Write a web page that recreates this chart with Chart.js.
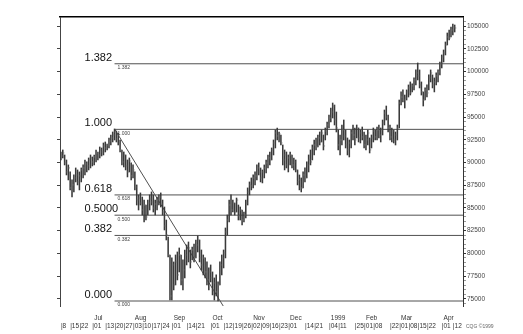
<!DOCTYPE html>
<html><head><meta charset="utf-8">
<script src="https://cdn.jsdelivr.net/npm/chart.js@4/dist/chart.umd.min.js"></script>
<style>html,body{margin:0;padding:0;background:#fff;}canvas{display:block;}</style>
</head><body>
<canvas id="c" width="523" height="334"></canvas>
<script>
// trading days on the axis (last few are empty slots at the right edge)
const dates = [
"1998-06-08","1998-06-09","1998-06-10","1998-06-11","1998-06-12","1998-06-15","1998-06-16","1998-06-17","1998-06-18","1998-06-19",
"1998-06-22","1998-06-23","1998-06-24","1998-06-25","1998-06-26","1998-06-29","1998-06-30","1998-07-01","1998-07-02","1998-07-06",
"1998-07-07","1998-07-08","1998-07-09","1998-07-10","1998-07-13","1998-07-14","1998-07-15","1998-07-16","1998-07-17","1998-07-20",
"1998-07-21","1998-07-22","1998-07-23","1998-07-24","1998-07-27","1998-07-28","1998-07-29","1998-07-30","1998-07-31","1998-08-03",
"1998-08-04","1998-08-05","1998-08-06","1998-08-07","1998-08-10","1998-08-11","1998-08-12","1998-08-13","1998-08-14","1998-08-17",
"1998-08-18","1998-08-19","1998-08-20","1998-08-21","1998-08-24","1998-08-25","1998-08-26","1998-08-27","1998-08-28","1998-08-31",
"1998-09-01","1998-09-02","1998-09-03","1998-09-04","1998-09-08","1998-09-09","1998-09-10","1998-09-11","1998-09-14","1998-09-15",
"1998-09-16","1998-09-17","1998-09-18","1998-09-21","1998-09-22","1998-09-23","1998-09-24","1998-09-25","1998-09-28","1998-09-29",
"1998-09-30","1998-10-01","1998-10-02","1998-10-05","1998-10-06","1998-10-07","1998-10-08","1998-10-09","1998-10-12","1998-10-13",
"1998-10-14","1998-10-15","1998-10-16","1998-10-19","1998-10-20","1998-10-21","1998-10-22","1998-10-23","1998-10-26","1998-10-27",
"1998-10-28","1998-10-29","1998-10-30","1998-11-02","1998-11-03","1998-11-04","1998-11-05","1998-11-06","1998-11-09","1998-11-10",
"1998-11-11","1998-11-12","1998-11-13","1998-11-16","1998-11-17","1998-11-18","1998-11-19","1998-11-20","1998-11-23","1998-11-24",
"1998-11-25","1998-11-27","1998-11-30","1998-12-01","1998-12-02","1998-12-03","1998-12-04","1998-12-07","1998-12-08","1998-12-09",
"1998-12-10","1998-12-11","1998-12-14","1998-12-15","1998-12-16","1998-12-17","1998-12-18","1998-12-21","1998-12-22","1998-12-23",
"1998-12-24","1998-12-28","1998-12-29","1998-12-30","1998-12-31","1999-01-04","1999-01-05","1999-01-06","1999-01-07","1999-01-08",
"1999-01-11","1999-01-12","1999-01-13","1999-01-14","1999-01-15","1999-01-19","1999-01-20","1999-01-21","1999-01-22","1999-01-25",
"1999-01-26","1999-01-27","1999-01-28","1999-01-29","1999-02-01","1999-02-02","1999-02-03","1999-02-04","1999-02-05","1999-02-08",
"1999-02-09","1999-02-10","1999-02-11","1999-02-12","1999-02-16","1999-02-17","1999-02-18","1999-02-19","1999-02-22","1999-02-23",
"1999-02-24","1999-02-25","1999-02-26","1999-03-01","1999-03-02","1999-03-03","1999-03-04","1999-03-05","1999-03-08","1999-03-09",
"1999-03-10","1999-03-11","1999-03-12","1999-03-15","1999-03-16","1999-03-17","1999-03-18","1999-03-19","1999-03-22","1999-03-23",
"1999-03-24","1999-03-25","1999-03-26","1999-03-29","1999-03-30","1999-03-31","1999-04-01","1999-04-05","1999-04-06","1999-04-07",
"1999-04-08","1999-04-09","1999-04-12","1999-04-13","1999-04-14","1999-04-15","1999-04-16","1999-04-19"
];

const highs = [
91160,91380,90830,90280,89730,88960,88080,88630,89400,89180,
88960,89400,89730,90280,90060,90500,90830,90610,90830,91380,
91160,91710,91600,92150,92260,92040,92700,93030,93360,93690,
93470,93250,92480,91380,91160,90830,90280,90500,89950,89730,
88960,87530,86430,86650,86200,85870,85320,85870,86430,86760,
86430,85870,86200,86430,86650,85870,85100,83670,81800,79820,
79490,79050,79820,80150,80590,79820,79270,80370,80920,81250,
80370,80700,81030,81470,81910,81470,80370,79820,79490,79050,
78390,78720,77950,77290,77620,76850,79050,79820,80370,82790,
84220,85870,86430,85870,85540,86090,85320,85100,84770,84550,
85870,87200,87860,88300,88630,88960,89730,89950,89400,89180,
89730,90280,90830,91160,91600,92480,93580,93800,93360,93030,
91930,91380,91160,90830,91160,90830,90500,90280,89180,88630,
88300,88960,89400,90060,90830,91380,91930,92480,92700,93030,
93360,93580,93030,93800,94460,95230,96000,96550,96330,95560,
93580,93030,94130,94680,93580,92700,92480,93580,94130,93800,
94130,93800,93580,93910,93360,93030,93580,92700,93030,93800,
93580,93910,94130,93800,94680,95780,96220,95230,94130,93800,
93580,93360,94130,96880,97770,97990,97430,97990,98540,98870,
98650,99310,100190,100960,100190,98870,97770,98210,98540,99640,
100190,99640,99310,99860,100190,101070,101840,102390,103270,104260,
104590,104920,105250,105140
];

const lows = [
90280,90500,89730,88630,88080,86980,86200,86760,87860,87530,
86980,87860,88300,88630,88960,89180,89400,89620,89730,90060,
90280,90500,90720,90830,91160,91380,91600,91930,92260,92480,
92260,91930,91160,89730,89510,89180,88410,88960,88080,88300,
86980,85320,84770,85320,84220,83450,83670,84220,84770,85320,
84550,84220,84770,85320,85100,84220,82570,81470,79600,74860,
74860,75970,76520,77070,77950,76520,75970,77290,78720,79050,
78390,79270,79050,79490,80150,79050,78170,77620,77290,76520,
75970,76850,75420,74860,75300,74750,76520,77620,78390,79490,
82020,83450,84220,84550,84220,84550,83670,83670,83120,83450,
83890,85320,86430,86980,87200,87530,88080,88630,87860,87750,
88300,88850,89400,89730,90280,90830,91600,92480,92260,91930,
89730,89180,89400,88960,89730,89400,89180,88960,87530,86980,
86760,87200,87860,88300,88960,89730,90280,90830,91380,91710,
91930,92260,91380,92480,93030,93800,94460,94900,94130,93360,
91380,90830,91930,92480,91600,90830,90610,91600,92480,91930,
92700,92260,92150,92480,91600,91380,91930,91050,91600,92260,
92480,92480,92700,92260,93030,94130,94680,93360,92480,92260,
92150,91930,92480,93800,96330,96660,96000,96880,97210,97430,
97770,97990,98540,99090,98210,97430,96220,96880,97210,97990,
98870,98210,97770,98540,98870,99640,100410,101070,101840,102940,
103490,103820,104040,104370
];

const closes = [
90720,91050,89950,88960,89400,87200,87530,88300,88630,87860,
88520,89180,89400,89840,89620,90280,90500,90060,90610,91050,
90830,91380,91160,91820,91600,91930,92370,92700,93030,93360,
92590,93030,91380,90060,90830,89620,88960,90170,88520,89180,
87310,85870,86090,85540,84770,85320,84000,85540,85980,85650,
84990,85430,85870,86200,85430,84550,83010,82020,79820,75300,
78720,76520,79050,77620,79820,77070,78170,79820,79270,80590,
79050,80370,79490,80920,81470,79490,78720,79490,77950,77070,
77950,77290,75970,76740,75750,76520,78720,79490,80040,82350,
83670,85320,84770,85540,84550,85870,84110,84770,83670,84220,
85540,86760,87530,87420,88300,88520,89400,88960,88300,88960,
89400,89950,90500,90280,91380,92150,93250,92920,93140,92150,
90280,90830,89730,90500,90830,89730,90060,89180,87860,88080,
87200,88630,88300,89730,90280,90060,91600,91930,91710,92700,
92260,93250,91820,93470,94130,94900,95560,96220,94680,93800,
91930,92480,93580,92920,91930,91380,92150,93250,93030,92480,
93800,92700,93250,92810,91930,92480,93250,91380,92700,93470,
92810,93580,93030,93580,94350,95450,95010,93800,92810,93470,
92480,93030,93800,96550,97210,96880,97100,97770,98210,97660,
98430,99090,99860,99530,98540,97770,96880,97990,97660,99310,
99860,98540,98870,99530,99970,100850,101620,102060,102940,103820,
103710,104590,104920,104810
];

const xTickDates = ["1998-06-08","1998-06-15","1998-06-22","1998-07-01","1998-07-13","1998-07-20","1998-07-27","1998-08-03","1998-08-10","1998-08-17","1998-08-24","1998-09-01","1998-09-14","1998-09-21","1998-10-01","1998-10-12","1998-10-19","1998-10-26","1998-11-02","1998-11-09","1998-11-16","1998-11-23","1998-12-01","1998-12-14","1998-12-21","1999-01-04","1999-01-11","1999-01-25","1999-02-01","1999-02-08","1999-02-22","1999-03-01","1999-03-08","1999-03-15","1999-03-22","1999-04-01","1999-04-12"];
const xTickDays = ["8","15","22","01","13","20","27","03","10","17","24","01","14","21","01","12","19","26","02","09","16","23","01","14","21","04","11","25","01","08","22","01","08","15","22","01","12"];
const monthTickDates = ["1998-07-01","1998-08-03","1998-09-01","1998-10-01","1998-11-02","1998-12-01","1999-01-04","1999-02-01","1999-03-01","1999-04-01"];
const monthTickNames = ["Jul","Aug","Sep","Oct","Nov","Dec","1999","Feb","Mar","Apr"];

const yTickLabels = [75000,77500,80000,82500,85000,87500,90000,92500,95000,97500,100000,102500,105000];

const fibLabels = ["1.382","1.000","0.618","0.5000","0.382","0.000"];
const fibSmallLabels = ["1.382","1.000","0.618","0.500","0.382","0.000"];
const fibValues = [100870,93650,86430,84200,81970,74750];
const fibStartDate = "1998-07-20";
const trendFrom = {date: "1998-07-20", value: 93690};
const trendTo = {date: "1998-10-12", value: 74130};

const Y_MIN = 74200, Y_MAX = 106020;
const idx = d => dates.indexOf(d);
const xEnd = dates.length - 0.5;

const fibDatasets = fibValues.map(v => ({
  type: 'line',
  data: [{x: idx(fibStartDate), y: v}, {x: xEnd, y: v}],
  borderColor: '#505050', borderWidth: 1, pointRadius: 0, order: 3
}));

const font = '"Liberation Sans", Arial, sans-serif';
const labelPlugin = {
  id: 'fibText',
  afterDatasetsDraw(chart) {
    const {ctx, scales: {x, y}} = chart;
    const x0 = x.getPixelForValue(idx(fibStartDate));
    ctx.save();
    fibValues.forEach((v, k) => {
      const py = y.getPixelForValue(v);
      ctx.font = '11px ' + font;
      ctx.fillStyle = '#111';
      ctx.textAlign = 'left';
      ctx.textBaseline = 'alphabetic';
      ctx.fillText(fibLabels[k], x0 - 30, py - 3);
      ctx.font = '5px ' + font;
      ctx.fillStyle = '#444';
      ctx.textBaseline = 'top';
      ctx.fillText(fibSmallLabels[k], x0 + 3, py + 1.5);
    });
    ctx.font = '5px ' + font;
    ctx.fillStyle = '#666';
    ctx.textBaseline = 'alphabetic';
    ctx.fillText('CQG \u00A91999', 466, 328);
    ctx.restore();
  }
};

new Chart(document.getElementById('c'), {
  type: 'bar',
  data: {
    datasets: [
      {
        type: 'bar',
        data: highs.map((h, i) => ({x: i, y: [lows[i], h]})),
        backgroundColor: '#3a3a3a', borderWidth: 0, barThickness: 0.9, order: 1
      },
      {
        type: 'line',
        data: closes.map((c, i) => ({x: i + 0.45, y: c})),
        showLine: false, pointStyle: 'line', pointRadius: 0.8, pointHoverRadius: 0.8,
        borderColor: '#777', pointBorderColor: '#777', pointBorderWidth: 0.8, order: 0
      },
      ...fibDatasets,
      {
        type: 'line',
        data: [{x: idx(trendFrom.date), y: trendFrom.value}, {x: idx(trendTo.date), y: trendTo.value}],
        borderColor: '#505050', borderWidth: 1, pointRadius: 0, order: 2
      }
    ]
  },
  options: {
    responsive: false, animation: false, events: [],
    layout: {padding: 0},
    plugins: {legend: {display: false}, tooltip: {enabled: false}},
    scales: {
      x: {
        type: 'linear', position: 'bottom', offset: false, min: -0.5, max: xEnd,
        grid: {display: false, offset: false},
        border: {display: false},
        afterBuildTicks: s => { s.ticks = xTickDates.map(d => ({value: idx(d)})); },
        afterFit: s => { s.height = 28; },
        ticks: {
          autoSkip: false, maxRotation: 0, minRotation: 0, align: 'start', padding: 1,
          color: '#333', font: {family: font, size: 6.5, lineHeight: 1.1},
          callback: v => {
            const d = dates[Math.round(v)];
            const m = monthTickDates.indexOf(d);
            return [m >= 0 ? ' ' + monthTickNames[m] : '', '|' + xTickDays[xTickDates.indexOf(d)]];
          }
        }
      },
      xTop: {
        type: 'linear', position: 'top', min: 0, max: 1, display: true,
        grid: {display: false}, ticks: {display: false},
        border: {display: true, color: '#000', width: 1.5},
        afterFit: s => { s.height = 17; }
      },
      y: {
        type: 'linear', position: 'right', min: Y_MIN, max: Y_MAX,
        grid: {drawOnChartArea: false, tickLength: 3,
               tickColor: c => (c.tick && c.tick.value % 2500 === 0) ? '#333' : '#999'},
        border: {display: true, color: '#333', width: 1},
        afterBuildTicks: s => {
          const t = [];
          for (let v = 74500; v <= 105500; v += 500) t.push({value: v});
          s.ticks = t;
        },
        afterFit: s => { s.width = 60; },
        ticks: {
          autoSkip: false, padding: 1, color: '#444',
          font: {family: font, size: 6.5},
          callback: v => yTickLabels.includes(v) ? String(v) : ''
        }
      },
      yL: {
        type: 'linear', position: 'left', min: Y_MIN, max: Y_MAX,
        grid: {drawOnChartArea: false, tickLength: 3, tickColor: '#444'},
        border: {display: true, color: '#444', width: 1},
        afterBuildTicks: s => { s.ticks = yTickLabels.map(v => ({value: v})); },
        afterFit: s => { s.width = 60; },
        ticks: {display: false}
      }
    }
  },
  plugins: [labelPlugin]
});
</script>
</body></html>
